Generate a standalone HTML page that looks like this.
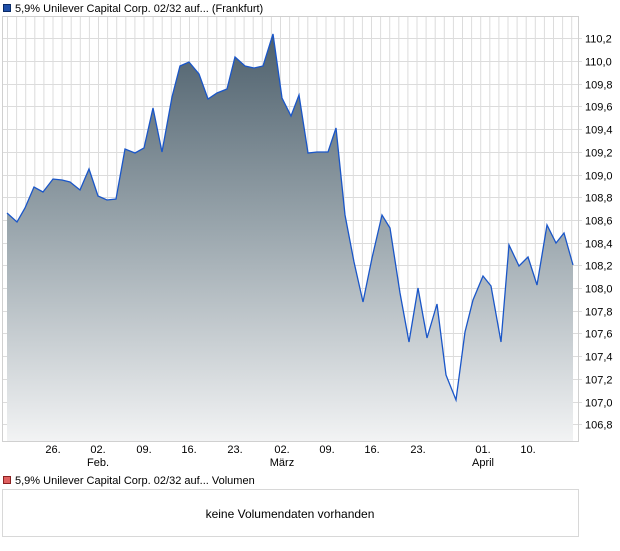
<!DOCTYPE html>
<html><head><meta charset="utf-8"><style>
body{margin:0;width:620px;height:546px;background:#fff;overflow:hidden;font-family:"Liberation Sans",sans-serif}
</style></head><body>
<svg width="620" height="546" xmlns="http://www.w3.org/2000/svg" font-family="Liberation Sans, sans-serif">
<defs><linearGradient id="g" x1="0" y1="16" x2="0" y2="441" gradientUnits="userSpaceOnUse">
<stop offset="0" stop-color="#465966"/><stop offset="0.5" stop-color="#9aa6ad"/><stop offset="1" stop-color="#f2f3f4"/></linearGradient></defs>
<rect x="3.5" y="4.5" width="7" height="7" fill="#1f4fa8" stroke="#0a2a66"/>
<text x="15" y="12" font-size="11" fill="#000">5,9% Unilever Capital Corp. 02/32 auf... (Frankfurt)</text>
<g id="grid" stroke="#dcdcdc" stroke-width="1"></g>
<polygon fill="url(#g)" points="7,441 7,213 17,222 25,208 34,187 43,192 53,179 62,180 70,182 80,190 89,169 98,196 107,200 116,199 125,149 135,153 144,148 153,108 162,152 172,97 180,66 189,62 199,74 208,99 217,93 227,89 235,57 245,66 254,68 263,66 273,34 282,98 291,116 299,95 308,153 317,152 328,152 336,128 345,215 354,262 363,302 372,258 382,215 390,228 400,293 409,342 418,288 427,338 437,304 446,375 456,400 465,332 473,300 483,276 491,286 501,342 509,245 519,266 528,257 537,285 547,225 556,243 564,233 573,265 573,441"/>
<polyline fill="none" stroke="#1a56c8" stroke-width="1.3" points="7,213 17,222 25,208 34,187 43,192 53,179 62,180 70,182 80,190 89,169 98,196 107,200 116,199 125,149 135,153 144,148 153,108 162,152 172,97 180,66 189,62 199,74 208,99 217,93 227,89 235,57 245,66 254,68 263,66 273,34 282,98 291,116 299,95 308,153 317,152 328,152 336,128 345,215 354,262 363,302 372,258 382,215 390,228 400,293 409,342 418,288 427,338 437,304 446,375 456,400 465,332 473,300 483,276 491,286 501,342 509,245 519,266 528,257 537,285 547,225 556,243 564,233 573,265"/>
<rect x="2.5" y="16.5" width="576" height="425" fill="none" stroke="#d0d0d0"/>
<g id="yl" font-size="11" fill="#000"></g>
<g font-size="11" fill="#000" text-anchor="middle">
<text x="53" y="453">26.</text><text x="98" y="453">02.</text><text x="144" y="453">09.</text><text x="189" y="453">16.</text><text x="235" y="453">23.</text><text x="282" y="453">02.</text><text x="327" y="453">09.</text><text x="372" y="453">16.</text><text x="418" y="453">23.</text><text x="483" y="453">01.</text><text x="528" y="453">10.</text>
<text x="98" y="466">Feb.</text><text x="282" y="466">März</text><text x="483" y="466">April</text>
</g>
<rect x="3.5" y="476.5" width="7" height="7" fill="#e06060" stroke="#8a2020"/>
<text x="15" y="484" font-size="11" fill="#000">5,9% Unilever Capital Corp. 02/32 auf... Volumen</text>
<rect x="2.5" y="489.5" width="576" height="47" fill="#fff" stroke="#d8d8d8"/>
<text x="290" y="518" font-size="12" fill="#000" text-anchor="middle">keine Volumendaten vorhanden</text>
</svg>
<script>
var ns="http://www.w3.org/2000/svg",g=document.getElementById("grid"),yl=document.getElementById("yl");
for(var k=0;k<=62;k++){var x=7.5+9.1*k;if(x>578)break;var l=document.createElementNS(ns,"line");l.setAttribute("x1",x);l.setAttribute("x2",x);l.setAttribute("y1",16);l.setAttribute("y2",441);g.appendChild(l);}
for(var i=0;i<=17;i++){var v=110.2-0.2*i,y=Math.round(38.3+0.2*i*113.5)+0.5;
var l=document.createElementNS(ns,"line");l.setAttribute("x1",3);l.setAttribute("x2",582);l.setAttribute("y1",y);l.setAttribute("y2",y);g.appendChild(l);
var t=document.createElementNS(ns,"text");t.setAttribute("x",585);t.setAttribute("y",y+4);t.textContent=v.toFixed(1).replace(".",",");yl.appendChild(t);}
</script>
</body></html>
